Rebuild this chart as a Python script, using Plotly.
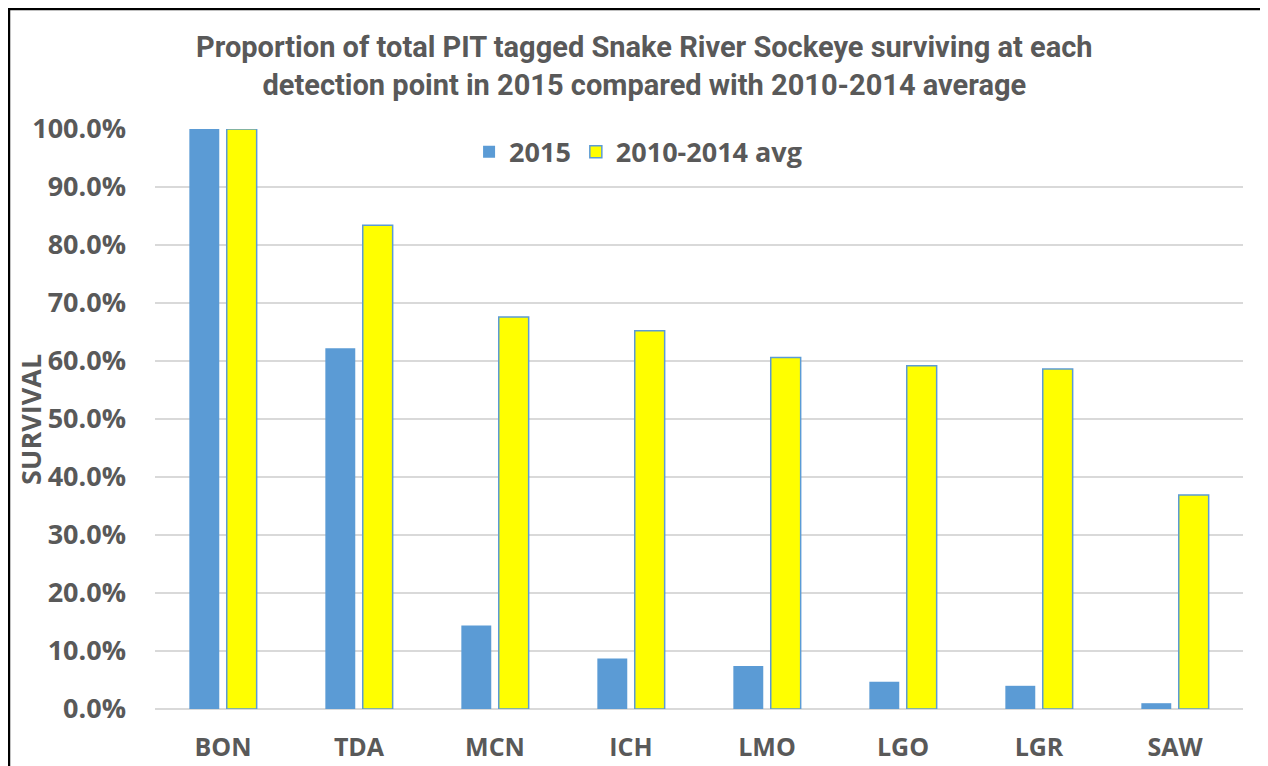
import plotly.graph_objects as go

sitios = ["BON", "TDA", "MCN", "ICH", "LMO", "LGO", "LGR", "SAW"]
surv_2015 = [1.000, 0.622, 0.144, 0.087, 0.074, 0.047, 0.040, 0.010]
surv_avg = [1.000, 0.834, 0.676, 0.652, 0.606, 0.592, 0.586, 0.369]
ticks_y = [0.0, 0.1, 0.2, 0.3, 0.4, 0.5, 0.6, 0.7, 0.8, 0.9, 1.0]

gris = "#595959"
azul = "#5B9BD5"
amarillo = "#FFFF00"
fuente = "Open Sans, DejaVu Sans, sans-serif"

fig = go.Figure()
fig.add_trace(go.Bar(x=sitios, y=surv_2015, name="2015",
                     marker=dict(color=azul, line=dict(width=0))))
fig.add_trace(go.Bar(x=sitios, y=surv_avg, name="2010-2014 avg",
                     marker=dict(color=amarillo, line=dict(color=azul, width=1.5))))

# la pagina tiene 8px de margen en el body, por eso 1260x758
fig.update_layout(
    width=1260, height=758,
    margin=dict(l=147, r=25, t=121, b=57),
    paper_bgcolor="white", plot_bgcolor="white",
    barmode="group", bargap=0.45, bargroupgap=0.2,
    title=dict(
        text="Proportion of total PIT tagged Snake River Sockeye surviving at each<br>"
             "detection point in 2015 compared with 2010-2014 average",
        x=0.505, xanchor="center", y=0.935, yanchor="middle",
        font=dict(family="Liberation Sans Narrow, Roboto, sans-serif", size=29, color=gris, weight="bold"),
    ),
    legend=dict(orientation="h", x=0.444, xanchor="center", y=0.96, yanchor="middle",
                font=dict(family=fuente, size=27, color=gris, weight="bold"),
                bgcolor="rgba(0,0,0,0)", traceorder="normal", itemwidth=30),
    font=dict(family=fuente, color=gris),
)

fig.update_xaxes(showline=False, showgrid=False, ticks="", automargin=False,
                 tickfont=dict(family=fuente, size=25, color=gris, weight="bold"),
                 ticklabelstandoff=21)
fig.update_yaxes(range=[0, 1.0], tickvals=ticks_y, tickformat=".1%", automargin=False,
                 showgrid=True, gridcolor="#D9D9D9", gridwidth=2,
                 zeroline=True, zerolinecolor="#D9D9D9", zerolinewidth=2,
                 showline=False, ticks="",
                 tickfont=dict(family=fuente, size=27, color=gris, weight="bold"),
                 ticklabelstandoff=28)

# titulo del eje y
fig.add_annotation(text="SURVIVAL", textangle=-90, xref="paper", yref="paper",
                   x=-0.115, y=0.5, xanchor="center", yanchor="middle", showarrow=False,
                   font=dict(family=fuente, size=27, color=gris, weight="bold"))

# marco negro del grafico
fig.add_shape(type="line", xref="paper", yref="paper", x0=-0.1342, x1=-0.1342, y0=-0.2, y1=1.25,
              line=dict(color="black", width=2.5))
fig.add_shape(type="line", xref="paper", yref="paper", x0=-0.1342, x1=1.05, y0=1.2069, y1=1.2069,
              line=dict(color="black", width=2.5))

fig.write_html("out.html")
